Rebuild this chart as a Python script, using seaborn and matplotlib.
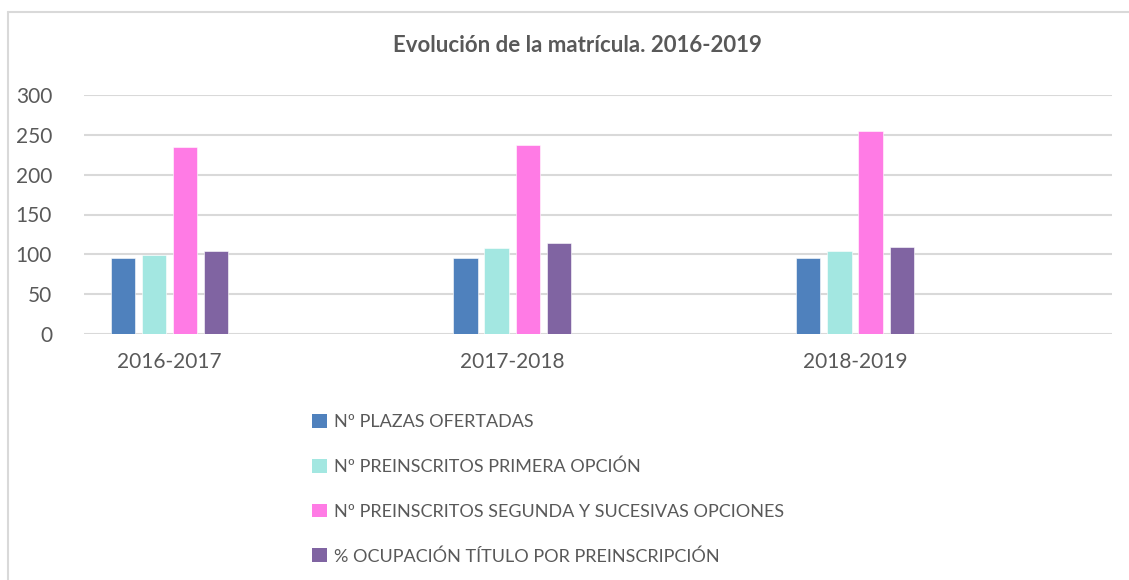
import matplotlib
matplotlib.use("Agg")
import matplotlib.pyplot as plt
import seaborn as sns
import pandas as pd
from matplotlib.lines import Line2D
from matplotlib.patches import Patch

# ---- data ----
categories = ["2016-2017", "2017-2018", "2018-2019"]
series_names = [
    "Nº PLAZAS OFERTADAS",
    "Nº PREINSCRITOS PRIMERA OPCIÓN",
    "Nº PREINSCRITOS SEGUNDA Y SUCESIVAS OPCIONES",
    "% OCUPACIÓN TÍTULO POR PREINSCRIPCIÓN",
]
plazas = [95, 95, 95]
primera = [99, 108, 104]
segunda = [235, 237, 255]
ocupacion = [104, 114, 109]
yticks = [0, 50, 100, 150, 200, 250, 300]
title = "Evolución de la matrícula. 2016-2019"

colors = ["#4F81BD", "#A3E7E1", "#FF7BE5", "#8064A2"]

rows = []
for name, vals in zip(series_names, [plazas, primera, segunda, ocupacion]):
    for c, v in zip(categories, vals):
        rows.append({"Curso": c, "Serie": name, "Valor": v})
df = pd.DataFrame(rows)

sns.set_theme(style="white")
FONT = ["Lato", "DejaVu Sans"]
plt.rcParams["font.family"] = FONT
TXT = "#595959"

W, H = 1129, 580
fig = plt.figure(figsize=(W / 100, H / 100), dpi=100)
ax = fig.add_axes([84 / W, 1 - 334 / H, (1112 - 84) / W, (334 - 95) / H])

sns.barplot(data=df, x="Curso", y="Valor", hue="Serie", order=categories,
            hue_order=series_names, palette=colors, width=0.364, gap=0.22,
            saturation=1, ax=ax, legend=True)

ax.set_xlim(-0.2495, 2.75)
ax.set_ylim(0, 300)
ax.set_yticks(yticks)
ax.set_xlabel("")
ax.set_ylabel("")
for s in ax.spines.values():
    s.set_visible(False)
ax.grid(axis="y", color="#D9D9D9", linewidth=1.5)
ax.set_axisbelow(True)
ax.tick_params(axis="y", length=0, pad=23, labelsize=15, labelcolor=TXT)
ax.tick_params(axis="x", length=0, pad=13, labelsize=15, labelcolor=TXT)
for p in ax.patches:
    p.set_edgecolor("white")
    p.set_linewidth(0.4)

# legend
lg = ax.get_legend()
if lg is not None:
    lg.remove()
handles = [Patch(facecolor=c, edgecolor="none") for c in colors]
fig.legend(handles, series_names, loc="upper left",
           bbox_to_anchor=(305 / W, 1 - 407 / H), frameon=False,
           fontsize=13, labelcolor=TXT, handlelength=0.8, handleheight=0.8,
           handletextpad=0.4, labelspacing=1.57, borderaxespad=0)

fig.text(577 / W, 1 - 46 / H, title, ha="center", va="center",
         fontsize=16, fontweight="bold", color=TXT)

# chart-area frame (left and top edges visible)
fig.add_artist(Line2D([8 / W, 8 / W], [0, 1 - 12 / H], transform=fig.transFigure,
                      color="#D9D9D9", linewidth=1.5))
fig.add_artist(Line2D([8 / W, 1], [1 - 12 / H, 1 - 12 / H], transform=fig.transFigure,
                      color="#D9D9D9", linewidth=1.5))

fig.savefig("out.png", dpi=100, facecolor="white")
